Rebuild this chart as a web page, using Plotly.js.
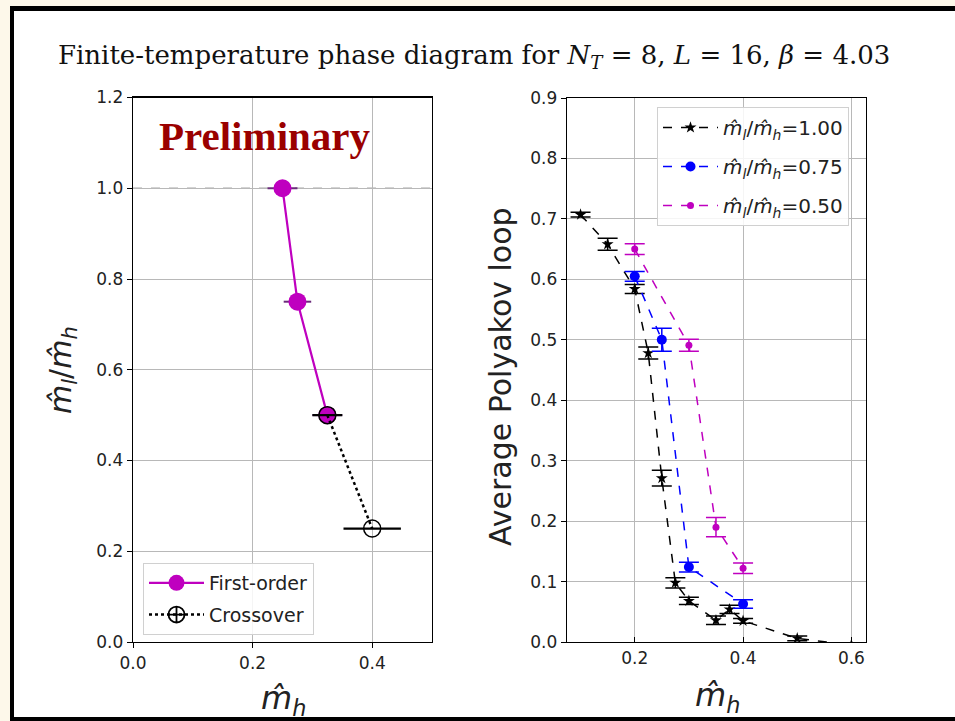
<!DOCTYPE html>
<html><head><meta charset="utf-8">
<script src="https://cdn.plot.ly/plotly-3.0.1.min.js"></script>
<style>
html,body{margin:0;padding:0;background:#fdf8ea;width:955px;height:721px;overflow:hidden}
#frame{position:absolute;left:10px;top:6px;width:960px;height:715px;box-sizing:border-box;border-left:4px solid #000;border-top:5px solid #000;border-bottom:4px solid #000;background:#fff}
#chart{position:absolute;left:0;top:0;width:955px;height:721px}
</style></head><body>
<div id="frame"></div><div id="chart"></div>
<script>
// Left panel: phase boundary
const firstOrderMh = [0.25, 0.275, 0.325];
const firstOrderRatio = [1.0, 0.75, 0.5];
const firstOrderErr = [0.025, 0.023, 0.025];
const crossoverMh = [0.325, 0.4];
const crossoverRatio = [0.5, 0.25];
const crossoverErr = [0.025, 0.048];
const refRatio = 1.0;

// Right panel: average Polyakov loop
const mh100 = [0.1, 0.15, 0.2, 0.225, 0.25, 0.275, 0.3, 0.35, 0.375, 0.4, 0.5, 0.6];
const ploop100 = [0.707, 0.658, 0.584, 0.478, 0.271, 0.098, 0.068, 0.036, 0.054, 0.035, 0.006, -0.005];
const err100 = [0.004, 0.01, 0.0075, 0.01, 0.013, 0.0085, 0.006, 0.007, 0.007, 0.004, 0.004, 0];
const mh075 = [0.2, 0.25, 0.3, 0.4];
const ploop075 = [0.605, 0.5, 0.124, 0.063];
const err075 = [0.008, 0.019, 0.008, 0.007];
const mh050 = [0.2, 0.3, 0.35, 0.4];
const ploop050 = [0.65, 0.491, 0.19, 0.122];
const err050 = [0.009, 0.01, 0.016, 0.0085];

const seriesNames = ['1.00', '0.75', '0.50'];
const leftXTicks = [0, 0.2, 0.4];
const leftYTicks = [0, 0.2, 0.4, 0.6, 0.8, 1.0, 1.2];
const rightXTicks = [0.2, 0.4, 0.6];
const rightYTicks = [0, 0.1, 0.2, 0.3, 0.4, 0.5, 0.6, 0.7, 0.8, 0.9];

const MAG = '#bf00bf';
const ratioLabel = '<i>m\u0302</i><sub><i>l</i></sub>/<i>m\u0302</i><sub><i>h</i></sub>';
const mhLabel = '<i>m\u0302</i><sub><i>h</i></sub>';

const traces = [
  {x: firstOrderMh, y: firstOrderRatio, xaxis:'x', yaxis:'y', type:'scatter', mode:'lines+markers',
   name:'First-order', legend:'legend', legendgroup:'fo',
   line:{color:MAG, width:2.2}, marker:{color:MAG, size:18, symbol:'circle'},
   error_x:{type:'data', array:firstOrderErr, color:'#6a2a7a', thickness:2, width:0}},
  {x: crossoverMh, y: crossoverRatio, xaxis:'x', yaxis:'y', type:'scatter', mode:'lines+markers',
   name:'Crossover', legend:'legend', showlegend:false, legendgroup:'co',
   line:{color:'#000', width:2.5, dash:'dot'}, marker:{color:'#000', size:17, symbol:'circle-open', line:{width:1.5}},
   error_x:{type:'data', array:crossoverErr, color:'#000', thickness:2.2, width:0}},
  {x:[null], y:[null], xaxis:'x', yaxis:'y', type:'scatter', mode:'lines+markers',
   name:'Crossover', legend:'legend', legendgroup:'co',
   line:{color:'#000', width:2.5, dash:'dot'}, marker:{color:'#000', size:16, symbol:'circle-cross-open', line:{width:1.8}}},
  {x: mh100, y: ploop100, xaxis:'x2', yaxis:'y2', type:'scatter', mode:'lines+markers',
   name: ratioLabel + '=' + seriesNames[0], legend:'legend2', legendgroup:'a',
   line:{color:'#000', width:1.5, dash:'dash'}, marker:{color:'#000', size:9, symbol:'star'},
   error_y:{type:'data', array:err100, color:'#000', thickness:1.5, width:10}},
  {x: mh075, y: ploop075, xaxis:'x2', yaxis:'y2', type:'scatter', mode:'lines+markers',
   name: ratioLabel + '=' + seriesNames[1], legend:'legend2', legendgroup:'b',
   line:{color:'#0000ff', width:1.5, dash:'dash'}, marker:{color:'#0000ff', size:10, symbol:'circle'},
   error_y:{type:'data', array:err075, color:'#0000ff', thickness:1.5, width:10}},
  {x: mh050, y: ploop050, xaxis:'x2', yaxis:'y2', type:'scatter', mode:'lines+markers',
   name: ratioLabel + '=' + seriesNames[2], legend:'legend2', legendgroup:'c',
   line:{color:MAG, width:1.5, dash:'dash'}, marker:{color:MAG, size:7, symbol:'circle'},
   error_y:{type:'data', array:err050, color:MAG, thickness:1.5, width:10}}
];

const tickFont = {family:'DejaVu Sans', size:17, color:'#222'};
const axCommon = {showline:true, mirror:true, linecolor:'#000', linewidth:1.3, showgrid:true,
  gridcolor:'#b8b8b8', gridwidth:1, zeroline:false, tickfont:tickFont, ticklen:5, tickcolor:'#000', tickformat:'.1f'};

const layout = {
  width:955, height:721, margin:{l:0, r:0, t:0, b:0},
  paper_bgcolor:'rgba(0,0,0,0)', plot_bgcolor:'#fff', showlegend:true,
  xaxis: Object.assign({}, axCommon, {domain:[133/955, 432/955], range:[0, 0.5], tickvals:leftXTicks, ticks:'outside', anchor:'y'}),
  yaxis: Object.assign({}, axCommon, {domain:[1-642/721, 1-97.5/721], range:[0, 1.2], tickvals:leftYTicks, ticks:'outside', anchor:'x'}),
  xaxis2: Object.assign({}, axCommon, {domain:[567/955, 865.5/955], range:[0.075, 0.626], tickvals:rightXTicks, ticks:'inside', anchor:'y2'}),
  yaxis2: Object.assign({}, axCommon, {domain:[1-642/721, 1-98/721], range:[0, 0.9], tickvals:rightYTicks, ticks:'outside', anchor:'x2'}),
  shapes:[{type:'line', xref:'x domain', yref:'y', x0:0, x1:1, y0:refRatio, y1:refRatio,
    line:{color:'#a8a8a8', width:1.5, dash:'dash'}, layer:'below'}],
  legend:{x:143/955, y:1-563/721, xanchor:'left', yanchor:'top', bgcolor:'rgba(255,255,255,0.85)',
    bordercolor:'#d0d0d0', borderwidth:1, font:{family:'DejaVu Sans', size:19, color:'#222'},
    tracegroupgap:4, itemwidth:55},
  legend2:{x:657/955, y:1-107/721, xanchor:'left', yanchor:'top', bgcolor:'rgba(255,255,255,0.85)',
    bordercolor:'#d0d0d0', borderwidth:1, font:{family:'DejaVu Sans', size:20, color:'#222'},
    tracegroupgap:10, itemwidth:55},
  annotations:[
    {text:'Finite-temperature phase diagram for <i>N<sub>T</sub></i> = 8, <i>L</i> = 16, <i>β</i> = 4.03',
     xref:'paper', yref:'paper', x:474/955, y:1-57/721, xanchor:'center', yanchor:'middle', showarrow:false,
     font:{family:'DejaVu Serif', size:26, color:'#111'}},
    {text:'<b>Preliminary</b>', xref:'paper', yref:'paper', x:265/955, y:1-136/721, xanchor:'center', yanchor:'middle',
     showarrow:false, font:{family:'Liberation Serif', size:41, color:'#9a0000'}},
    {text:ratioLabel, xref:'paper', yref:'paper', x:62/955, y:1-370/721, xanchor:'center', yanchor:'middle',
     textangle:-90, showarrow:false, font:{family:'DejaVu Sans', size:30, color:'#222'}},
    {text:'Average Polyakov loop', xref:'paper', yref:'paper', x:500/955, y:1-377/721, xanchor:'center', yanchor:'middle',
     textangle:-90, showarrow:false, font:{family:'DejaVu Sans', size:30, color:'#222'}},
    {text:mhLabel, xref:'paper', yref:'paper', x:283/955, y:1-700/721, xanchor:'center', yanchor:'middle',
     showarrow:false, font:{family:'DejaVu Sans', size:32, color:'#222'}},
    {text:mhLabel, xref:'paper', yref:'paper', x:717/955, y:1-697/721, xanchor:'center', yanchor:'middle',
     showarrow:false, font:{family:'DejaVu Sans', size:32, color:'#222'}}
  ]
};

Plotly.newPlot('chart', traces, layout, {displayModeBar:false, staticPlot:true});
</script></body></html>
